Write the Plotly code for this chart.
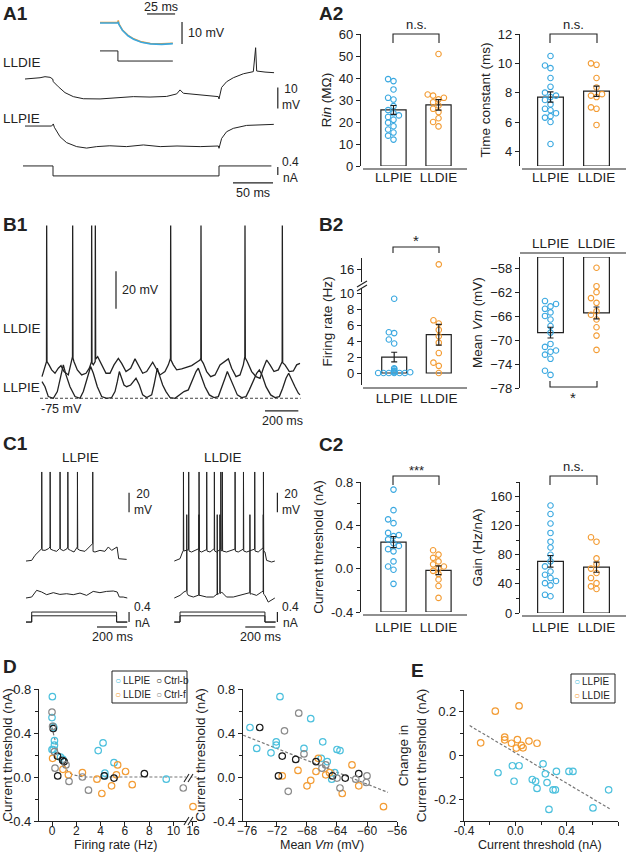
import plotly.graph_objects as go

W, H = 626, 853
FONT = "Liberation Sans, Arial, Helvetica, sans-serif"
INK = "#222222"
CYAN = "#3aa8e0"
CYAN_D = "#4cc0dd"
ORANGE = "#f39c34"
DARK = "#1a1a1a"
GREY = "#8a8a8a"

CATS = ["LLPIE", "LLDIE"]

# ---------------- A1 traces (ms, mV relative to rest) ----------------
A1_LLDIE_T = [0, 10.4, 18.8, 25, 31.3, 34.6, 35.4, 41.7, 50, 60.4, 72.9, 93.8, 114.6, 135.4, 156.3, 177,
              189.6, 193.8, 198, 218.8, 241.7, 242.5, 245.8, 252, 260.4, 273, 285.4, 288.3, 289.6, 300, 311.3]
A1_LLDIE_V = [0, 0.2, 0.6, 1.1, 0.8, 0, -1.3, -3.7, -6.5, -8.4, -9.4, -9.5, -8.9, -8.4, -8.6, -8.3,
              -7.1, -5.2, -6.8, -7.6, -8.4, -9.5, -4.0, -1.3, 0.6, 2.5, 3.5, 14.9, 3.8, 3.3, 3.0]
A1_LLPIE_T = [0, 33.3, 35.4, 36.7, 43.8, 52, 64.6, 77, 89.6, 106, 127, 148, 169, 190, 219, 241.7,
              242.5, 245.8, 252, 260.4, 277, 311]
A1_LLPIE_V = [0, 0, 1.0, -0.6, -5.1, -7.9, -9.8, -10.5, -9.8, -9.4, -9.8, -9.0, -9.8, -9.5, -9.8, -9.5,
              -10.6, -5.9, -2.7, -1.1, 0.3, 0.8]
A1_I_T = [-2.5, 35, 35, 242.5, 242.5, 308]
A1_I_NA = [0, 0, -0.5, -0.5, 0, 0]
# inset
INSET_T = [0, 16, 16.3, 16.8, 20, 25, 30, 37, 45, 55, 65]
INSET_LLDIE_V = [0.2, 0.2, 1.2, -0.3, -3.2, -5.6, -7.2, -8.6, -9.3, -9.5, -9.2]
INSET_LLPIE_V = [0, 0, 0.6, -0.6, -3.3, -5.8, -7.4, -8.8, -9.5, -9.7, -9.4]
INSET_I_T = [0, 16, 16, 65]
INSET_I_NA = [0, 0, -0.5, -0.5]

# ---------------- B1 traces (ms, mV) ----------------
B1_LLDIE = [(0, -63.4), (14, -59.8), (27, -55.4), (28, 17.5), (30, -55.4), (42, -57.1), (58, -59.8), (78, -61.6),
            (98, -58.9), (114, -57.5), (132, -60.7), (158, -62.5), (174, -57.1), (183, -52.7), (184, 17.5),
            (186, -53.5), (192, -55.4), (212, -59.8), (238, -62.5), (264, -61.6), (284, -58.9), (297, -55.4),
            (298, 17.5), (300, -56), (308, -57.1), (319, -55.4), (320, 17.5), (322, -54), (334, -52.7),
            (358, -57.1), (384, -61.6), (408, -61.6), (432, -57.1), (458, -53.6), (478, -56.3), (504, -60.7),
            (532, -58.9), (558, -53.9), (578, -57.1), (604, -61.6), (628, -60.7), (648, -58.0), (664, -55.7),
            (684, -58.9), (708, -62.5), (738, -60.7), (758, -57.1), (771, -53.6), (772, 17.5), (774, -54.5),
            (788, -57.1), (808, -59.8), (838, -59.3), (868, -58.6), (898, -57.5), (928, -55.7), (948, -54.5),
            (953, -53.6), (954, 17.5), (956, -54.5), (968, -56.3), (988, -60.7), (1012, -63.4), (1038, -62.5),
            (1068, -57.1), (1092, -55.4), (1118, -53.9), (1138, -58.9), (1164, -63.4), (1188, -62.5),
            (1208, -57.1), (1217, -52.7), (1218, 17.5), (1220, -53.5), (1232, -55.4), (1258, -60.7),
            (1284, -63.4), (1308, -64.3), (1328, -58.9), (1348, -54.5), (1368, -57.1), (1392, -60.7),
            (1418, -59.8), (1434, -57.1), (1441, -55.4), (1442, 17.5), (1444, -56), (1458, -57.1),
            (1484, -60.7), (1508, -60.4), (1528, -57.1), (1548, -56.3)]
B1_LLPIE = [(0, -66.1), (18, -68.8), (38, -74.1), (68, -75.0), (92, -71.4), (112, -64.3), (128, -57.1),
            (144, -62.5), (168, -68.8), (198, -74.1), (228, -75.0), (248, -71.4), (272, -64.3), (292, -58.0),
            (308, -61.6), (332, -68.8), (358, -74.1), (388, -75.0), (418, -74.6), (438, -71.4), (452, -66.1),
            (464, -60.7), (478, -64.3), (492, -67.9), (508, -68.8), (532, -67.9), (548, -66.1), (564, -64.3),
            (584, -67.9), (604, -73.2), (628, -74.6), (658, -73.2), (672, -67.9), (684, -62.5), (692, -58.9),
            (704, -62.5), (724, -67.9), (744, -71.4), (768, -74.6), (798, -75.0), (828, -73.2), (852, -71.4),
            (878, -70.5), (904, -65.2), (924, -60.7), (938, -58.9), (952, -62.5), (978, -68.8), (1004, -73.2),
            (1032, -74.6), (1058, -74.1), (1078, -69.6), (1098, -64.3), (1112, -60.7), (1128, -64.3),
            (1148, -68.8), (1172, -73.2), (1198, -74.6), (1224, -74.1), (1244, -70.5), (1268, -66.1),
            (1288, -61.6), (1304, -59.8), (1320, -62.5), (1344, -68.8), (1372, -73.2), (1398, -74.6),
            (1424, -74.1), (1444, -69.6), (1464, -64.3), (1480, -61.6), (1496, -64.3), (1518, -68.8),
            (1538, -72.3), (1548, -73.2)]
B1_REST = -75

# ---------------- C1 traces (ms, mV) ----------------
C1_LLPIE_HI = [(0, -69.3), (38, -68.6), (60, -63.4), (89, -58.3), (104, -56.6), (105, 22.5), (107, -58),
               (127, -58.3), (149, -56.6), (160, -54.8), (161, 22.5), (163, -57), (182, -58.3), (204, -59.3),
               (222, -56.6), (226, -56), (227, 22.5), (229, -57), (249, -58.6), (271, -57), (278, -54.8),
               (279, 22.5), (281, -57), (297, -58.3), (320, -60), (342, -54.8), (343, 22.5), (345, -57),
               (360, -58.3), (393, -59.3), (422, -54.8), (444, -51.4), (445, 22.5), (447, -59.5), (460, -60),
               (493, -58.3), (526, -59.3), (549, -54.8), (571, -58.3), (593, -56.6), (607, -54.8), (618, -66.9),
               (644, -67.6), (671, -67.6)]
C1_LLPIE_LO = [(0, -61.0), (38, -60), (71, -53.1), (104, -54.8), (138, -57.6), (182, -55.5), (226, -57.3),
               (271, -56.6), (315, -57.6), (360, -55.9), (404, -58.3), (448, -54.2), (493, -55.5), (537, -54.2),
               (582, -53.8), (608, -54.8), (622, -60), (648, -60), (675, -61.0)]
C1_LLDIE_HI = [(0, -69.3), (38, -66.9), (55, -60), (60, -58.5), (61, 22.5), (63, -59), (78, -58.3), (95, -57.5),
               (96, 22.5), (98, -59), (115, -60), (149, -57.3), (164, -56.5), (165, 22.5), (167, -59), (182, -60),
               (204, -58.3), (215, -57.5), (216, 22.5), (218, -59), (238, -60), (260, -57.3), (266, -56.5),
               (267, 22.5), (269, -59), (282, -60), (304, -57.6), (309, -57), (310, 22.5), (312, -59), (319, -58),
               (320, 22.5), (322, -59), (348, -60), (382, -58.3), (404, -57), (405, 22.5), (407, -59), (426, -60),
               (448, -58.3), (460, -57), (461, 22.5), (463, -59), (482, -60), (515, -58.3), (535, -57),
               (536, 22.5), (538, -59), (559, -60), (582, -56.6), (593, -55.5), (594, 22.5), (596, -59),
               (604, -60), (615, -68.6), (648, -70.3), (670, -69.3)]
C1_LLDIE_LO = [(0, -61), (38, -58.3), (64, -54.8), (82, -53.5), (83, 24.9), (85, -56), (93, -58.3), (127, -60),
               (163, -58), (164, 24.9), (166, -58.5), (171, -58.3), (215, -60), (260, -60), (285, -57),
               (286, 24.9), (288, -57.5), (295, -56.6), (303, -55.5), (304, 24.9), (306, -56.5), (315, -54.8),
               (348, -60), (393, -60), (437, -58.3), (482, -56.6), (503, -55.5), (504, 24.9), (506, -57),
               (515, -56.6), (548, -58.3), (582, -54.8), (592, -54), (593, 24.9), (595, -57), (604, -58.3),
               (626, -65.2), (670, -61)]
C1_I_T = [0, 38, 38, 604, 604, 675]
C1_I_HI = [0, 0, 0.4, 0.4, 0, 0]
C1_I_LO = [0, 0, 0.25, 0.25, 0, 0]

# ---------------- A2 / B2 / C2 group data ----------------
RIN_LLPIE = [39.5, 38.6, 34.8, 31.0, 30.2, 27.2, 25.4, 24.0, 23.0, 22.3, 21.0, 19.7, 18.1, 16.6, 15.2, 13.8, 12.0]
RIN_LLDIE = [50.9, 32.5, 32.0, 31.0, 30.3, 29.0, 27.5, 26.0, 24.5, 21.7, 20.0, 18.0]
RIN_MEAN, RIN_SEM = [25.5, 27.8], [2.0, 2.4]
TAU_LLPIE = [10.5, 9.85, 9.67, 9.0, 8.4, 8.0, 7.8, 7.7, 7.5, 7.2, 6.9, 6.8, 6.6, 6.4, 6.3, 6.0, 4.5]
TAU_LLDIE = [10.0, 9.9, 9.0, 8.35, 7.9, 7.8, 7.7, 7.0, 6.9, 5.8]
TAU_MEAN, TAU_SEM = [7.7, 8.1], [0.35, 0.35]
FR_LLPIE = [9.3, 5.1, 5.0, 4.2, 3.7, 0.6, 0.5, 0.3, 0.2, 0.1, 0.1, 0, 0, 0, 0, 0, 0]
FR_LLDIE = [17.1, 6.6, 6.2, 5.4, 4.6, 3.8, 2.5, 1.3, 0.9, 0]
FR_MEAN, FR_SEM = [2.0, 4.8], [0.6, 1.3]
VM_LLPIE = [-63.4, -63.9, -64.3, -64.7, -65.3, -65.9, -66.5, -67.6, -68.7, -70.6, -71.1, -71.7, -71.9, -72.4,
            -73.1, -75.1, -75.8]
VM_LLDIE = [-57.8, -60.9, -61.9, -62.9, -63.7, -65.1, -65.7, -66.5, -67.8, -69.2, -71.6]
VM_MEAN, VM_SEM = [-68.7, -65.4], [0.9, 1.0]
THR_LLPIE = [0.73, 0.54, 0.455, 0.42, 0.33, 0.31, 0.30, 0.27, 0.235, 0.21, 0.18, 0.16, 0.067, 0.02, -0.01, -0.14]
THR_LLDIE = [0.17, 0.13, 0.10, 0.067, 0.04, 0.02, 0.0, -0.02, -0.05, -0.10, -0.16, -0.27]
THR_MEAN, THR_SEM = [0.245, -0.015], [0.05, 0.04]
GAIN_LLPIE = [147.7, 136, 123, 110, 98, 90, 80, 71, 64, 57, 52.6, 48, 44, 41, 38, 25, 23]
GAIN_LLDIE = [104, 98, 75, 67, 61, 55, 48, 41, 36.6, 33]
GAIN_MEAN, GAIN_SEM = [71, 63], [8, 7]

# ---------------- D: threshold vs firing rate / mean Vm ----------------
D1_LLPIE_FR = [0.03, 0.0, 0.1, 0.15, 0.2, 0.2, 0.1, 0.0, 0.7, 0.9, 3.8, 4.2, 4.35, 4.35, 5.1, 9.4]
D1_LLPIE_THR = [0.73, 0.54, 0.46, 0.45, 0.33, 0.29, 0.25, 0.25, 0.18, 0.16, 0.24, 0.31, 0.035, 0.01, 0.13, -0.02]
D1_LLDIE_FR = [0.05, 0.9, 1.35, 2.5, 3.7, 4.1, 4.9, 5.4, 5.3, 6.05, 6.6, 16]
D1_LLDIE_THR = [0.17, 0.07, 0.02, 0.04, -0.02, -0.15, -0.08, 0.11, 0.02, 0.05, -0.07, -0.27]
D1_CTRLB_FR = [0.1, 0.45, 0.88, 1.0, 0.47, 4.3, 5.1, 7.6]
D1_CTRLB_THR = [0.44, 0.19, 0.15, 0.14, 0.01, 0.01, -0.01, 0.03]
D1_CTRLF_FR = [0.0, 0.05, 0.2, 0.25, 1.15, 1.4, 3.0, 2.5, 10.8]
D1_CTRLF_THR = [0.59, 0.46, 0.23, 0.08, 0.11, -0.04, -0.12, 0.0, -0.1]
D1_FIT_FR = [0, 0.1, 0.25, 0.5, 0.75, 1.0, 1.3, 1.7, 2.2, 2.6, 17]
D1_FIT_THR = [0.45, 0.4, 0.32, 0.22, 0.15, 0.1, 0.05, 0.02, 0.005, 0, 0]

D2_LLPIE_VM = [-75.6, -74.7, -72.8, -72.1, -72.1, -71.6, -68.4, -67.5, -65.9, -66.1, -65.3, -64.7, -64.3, -64.0, -63.6]
D2_LLPIE_THR = [0.45, 0.26, 0.22, 0.32, 0.29, 0.73, 0.26, 0.53, 0.32, 0.17, 0.14, -0.02, 0.04, 0.25, 0.24]
D2_LLDIE_VM = [-71.3, -69.2, -68.0, -67.5, -66.8, -66.5, -65.5, -65.0, -63.3, -62.0, -61.1, -57.8]
D2_LLDIE_THR = [0.01, 0.06, -0.08, -0.03, 0.05, 0.17, 0.02, 0.04, -0.15, 0.11, -0.08, -0.27]
D2_CTRLB_VM = [-74.3, -71.3, -71.8, -69.5, -66.8, -64.6, -62.9, -61.1]
D2_CTRLB_THR = [0.45, 0.19, 0.01, 0.16, 0.14, 0.01, -0.01, 0.03]
D2_CTRLF_VM = [-71.0, -69.1, -68.4, -70.5, -66.0, -65.5, -63.6, -61.5, -60.0, -60.1, -64.0]
D2_CTRLF_THR = [0.42, 0.58, 0.21, -0.13, 0.08, 0.11, -0.10, -0.02, 0.01, -0.05, -0.01]
D2_FIT_VM = [-76.5, -57.2]
D2_FIT_THR = [0.38, -0.14]

# ---------------- E: change in threshold vs threshold ----------------
E_LLDIE_THR = [-0.156, 0.029, -0.27, -0.083, -0.083, -0.03, 0.016, 0.008, 0.047, 0.06, 0.106, 0.169]
E_LLDIE_CHG = [0.203, 0.227, 0.058, 0.084, 0.072, 0.056, 0.073, 0.034, 0.046, 0.035, 0.066, 0.056]
E_LLPIE_THR = [-0.135, -0.023, 0.029, -0.01, 0.132, 0.158, 0.169, 0.216, 0.234, 0.247, 0.262, 0.294, 0.312,
               0.32, 0.418, 0.449, 0.605, 0.727]
E_LLPIE_CHG = [-0.079, -0.047, -0.047, -0.118, -0.11, -0.118, -0.151, -0.038, -0.084, -0.124, -0.247, -0.157,
               -0.157, -0.073, -0.073, -0.073, -0.24, -0.157]
E_FIT_THR = [-0.356, 0.735]
E_FIT_CHG = [0.137, -0.244]

fig = go.Figure()
AX, ANN, SHP = {}, [], []


def fx(px):
    return px / W


def fy(py):
    return 1 - py / H


def ids(n):
    return ("x", "y") if n == 1 else (f"x{n}", f"y{n}")


def set_axes(n, px0, px1, py0, py1, xr, yr, xa=None, ya=None):
    xk, yk = ("xaxis", "yaxis") if n == 1 else (f"xaxis{n}", f"yaxis{n}")
    xi, yi = ids(n)
    AX[xk] = dict(domain=[fx(px0), fx(px1)], range=xr, anchor=yi, fixedrange=True, showgrid=False,
                  zeroline=False, automargin=False, **(xa or {"visible": False}))
    AX[yk] = dict(domain=[fy(py1), fy(py0)], range=yr, anchor=xi, fixedrange=True, showgrid=False,
                  zeroline=False, automargin=False, **(ya or {"visible": False}))


def line(n, xs, ys, color=INK, width=1.0, dash=None):
    xi, yi = ids(n)
    fig.add_trace(go.Scatter(x=xs, y=ys, mode="lines", line=dict(color=color, width=width, dash=dash),
                             xaxis=xi, yaxis=yi, hoverinfo="skip", showlegend=False))


def pts(n, xs, ys, color, size=6.5, lw=1.2):
    xi, yi = ids(n)
    fig.add_trace(go.Scatter(x=xs, y=ys, mode="markers",
                             marker=dict(symbol="circle-open", size=size, color=color, line=dict(width=lw)),
                             xaxis=xi, yaxis=yi, showlegend=False))


def text(px, py, s, size=13, anchor="left", bold=False):
    ANN.append(dict(x=fx(px), y=fy(py), xref="paper", yref="paper", text=f"<b>{s}</b>" if bold else s,
                    showarrow=False, xanchor=anchor, yanchor="middle", font=dict(size=size, color=INK)))


def path(p, width=1.1, color=INK):
    d = "M " + " L ".join(f"{fx(a):.5f},{fy(b):.5f}" for a, b in p)
    SHP.append(dict(type="path", path=d, xref="paper", yref="paper", line=dict(color=color, width=width),
                    layer="above"))


def blank(px0, py0, px1, py1):
    SHP.append(dict(type="rect", x0=fx(px0), x1=fx(px1), y0=fy(py1), y1=fy(py0), xref="paper", yref="paper",
                    fillcolor="white", line_width=0, layer="above"))


def split(pairs):
    return [a for a, _ in pairs], [b for _, b in pairs]


def swarm(vals, d, step=0.12):
    # spread overlapping dots sideways so they stay readable
    order = sorted(range(len(vals)), key=lambda i: vals[i])
    offs, done = [0.0] * len(vals), []
    for i in order:
        for c in (0, -step, step, -2 * step, 2 * step, -3 * step, 3 * step):
            if all(abs(vals[i] - vals[j]) >= d or abs(c - offs[j]) >= step * 0.9 for j in done):
                offs[i] = c
                break
        done.append(i)
    return offs


def yax(title, tickvals, ticktext=None, minor=None, standoff=4):
    d = dict(visible=True, showline=True, linecolor=INK, linewidth=1.2, ticks="outside", ticklen=4,
             tickwidth=1.2, tickcolor=INK, tickvals=tickvals, tickfont=dict(size=13),
             title=dict(text=title, font=dict(size=13.5), standoff=standoff))
    if ticktext:
        d["ticktext"] = ticktext
    if minor:
        d["minor"] = dict(tickmode="array", tickvals=minor, ticks="outside", ticklen=2.5, tickwidth=1.2,
                          tickcolor=INK)
    return d


def catx(side="bottom", standoff=1):
    return dict(visible=True, showline=False, ticks="", tickvals=[0, 1], ticktext=CATS, side=side,
                tickfont=dict(size=13.5), ticklabelstandoff=standoff)


def bar_panel(n, a, b, means, sems, base, d, tf=lambda v: v):
    xi, yi = ids(n)
    fig.add_trace(go.Bar(x=[0, 1], y=[m - base for m in means], base=base, width=0.56,
                         marker=dict(color="white", line=dict(color=INK, width=1.2)),
                         xaxis=xi, yaxis=yi, showlegend=False, hoverinfo="skip"))
    for vals, col, k in ((a, CYAN, 0), (b, ORANGE, 1)):
        dv = [tf(v) for v in vals]
        offs = swarm(dv, d)
        pts(n, [k + o for o in offs], dv, col, size=5.5, lw=1.1)
    fig.add_trace(go.Scatter(x=[0, 1], y=means, mode="markers", marker=dict(size=1, color="rgba(0,0,0,0)"),
                             error_y=dict(type="data", array=sems, color=INK, thickness=1.2, width=3),
                             xaxis=xi, yaxis=yi, showlegend=False, hoverinfo="skip"))


# ===== A1 =====
set_axes(1, 20, 290, 40, 200, [-6.25, 331.25], [-57.62, 18.57])
LLPIE_SHIFT, I_BASE_A1, I_GAIN_A1 = -22.4, -41.4, 9.5
line(1, A1_LLDIE_T, A1_LLDIE_V)
line(1, A1_LLPIE_T, [v + LLPIE_SHIFT for v in A1_LLPIE_V])
line(1, A1_I_T, [I_BASE_A1 + i * I_GAIN_A1 for i in A1_I_NA])
line(1, [316, 316], [-4, -14], width=1.2)
line(1, [316, 316], [I_BASE_A1 - 0.05 * I_GAIN_A1, I_BASE_A1 - 0.45 * I_GAIN_A1], width=1.2)
line(1, [260, 310], [-49.5, -49.5], width=1.2)
set_axes(2, 95, 220, 5, 65, [-4.46, 107.1], [-19.1, 8.18])
line(2, INSET_T, INSET_LLDIE_V, color=ORANGE, width=1.6)
line(2, INSET_T, INSET_LLPIE_V, color=CYAN, width=1.6)
line(2, INSET_I_T, [-12.7 + i * 9.2 for i in INSET_I_NA])
line(2, [42, 67], [4.1, 4.1], width=1.2)
line(2, [73.2, 73.2], [0.5, -9.5], width=1.2)
text(1, 13, "A1", 19, bold=True)
text(161, 7, "25 ms", 12.5, "center")
text(186, 33, "10 mV", 12.5)
text(1, 62, "LLDIE", 13.5)
text(280, 97, "10<br>mV", 12)
text(1, 118, "LLPIE", 13.5)
text(280, 170, "0.4<br>nA", 12)
text(253, 193, "50 ms", 12.5, "center")

# ===== B1 =====
set_axes(5, 40, 302, 220, 430, [-12, 1560], [-92.0, 20.5])
line(5, [-12, 1552], [B1_REST, B1_REST], color="#444444", width=1, dash="3px,2px")
t, v = split(B1_LLDIE)
line(5, t, v, width=1.3)
t, v = split(B1_LLPIE)
line(5, t, v, width=1.3)
line(5, [444, 444], [-27, -7], width=1.2)
line(5, [1338, 1538], [-81.8, -81.8], width=1.2)
text(1, 225, "B1", 19, bold=True)
text(120, 290, "20 mV", 12.5)
text(1, 328, "LLDIE", 13.5)
text(1, 388, "LLPIE", 13.5)
text(39, 409, "-75 mV", 12.5)
text(282, 421, "200 ms", 12.5, "center")

# ===== C1 =====
LO_SHIFT, I_BASE_C1, I_GAIN_C1 = -46.4, -132.2, 25.8
for n, hi, lo, x0 in ((8, C1_LLPIE_HI, C1_LLPIE_LO, 20), (9, C1_LLDIE_HI, C1_LLDIE_LO, 168)):
    xr = [-40, 760] if n == 8 else [-42, 771]
    set_axes(n, x0, x0 + (120 if n == 8 else 122), 465, 640, xr, [-150.7, 29.7])
    t, v = split(hi)
    line(n, t, v)
    t, v = split(lo)
    line(n, t, [y + LO_SHIFT for y in v])
    line(n, C1_I_T, [I_BASE_C1 + i * I_GAIN_C1 for i in C1_I_HI])
    line(n, C1_I_T, [I_BASE_C1 + i * I_GAIN_C1 for i in C1_I_LO])
    line(n, [687, 687], [-19, 1], width=1.2)
    line(n, [687, 687], [I_BASE_C1, I_BASE_C1 + 0.4 * I_GAIN_C1], width=1.2)
    line(n, [473, 673], [-137.3, -137.3], width=1.2)
text(1, 443, "C1", 19, bold=True)
text(80, 458, "LLPIE", 13.5, "center")
text(223, 458, "LLDIE", 13.5, "center")
for xp in (132, 280):
    text(xp, 502, "20<br>mV", 12)
    text(xp, 615, "0.4<br>nA", 12)
text(112, 637, "200 ms", 12.5, "center")
text(260, 637, "200 ms", 12.5, "center")

# ===== A2 =====
set_axes(3, 361, 467, 34, 166, [-0.722, 1.633], [0, 60], catx(),
         yax("R<i>in</i> (MΩ)", [0, 10, 20, 30, 40, 50, 60]))
bar_panel(3, RIN_LLPIE, RIN_LLDIE, RIN_MEAN, RIN_SEM, 0, 2.5)
set_axes(4, 520, 626, 34, 166, [-0.663, 1.641], [3, 12], catx(),
         yax("Time constant (ms)", [4, 6, 8, 10, 12]))
bar_panel(4, TAU_LLPIE, TAU_LLDIE, TAU_MEAN, TAU_SEM, 3, 0.38)
text(317, 13, "A2", 19, bold=True)
path([(363, 169), (467, 169)], 1.2)
path([(522, 169), (626, 169)], 1.2)
path([(393, 43), (393, 34), (439, 34), (439, 43)])
path([(550, 43), (550, 34), (597, 34), (597, 43)])
text(416, 25, "n.s.", 13, "center")
text(573, 25, "n.s.", 13, "center")

# ===== B2 =====
def fr_disp(v):
    return v if v <= 10 else 13 + (v - 16) * 0.55


set_axes(6, 362, 467, 258, 385, [-0.722, 1.633], [-1.5, 14.4], catx(standoff=3),
         yax("Firing rate (Hz)", [0, 2, 4, 6, 8, 10, 13], ["0", "2", "4", "6", "8", "10", "16"]))
bar_panel(6, FR_LLPIE, FR_LLDIE, FR_MEAN, FR_SEM, 0, 0.7, fr_disp)
set_axes(7, 520, 626, 257, 388, [-0.663, 1.641], [-78, -56], catx("top", 5),
         yax("Mean <i>Vm</i> (mV)", [-58, -62, -66, -70, -74, -78]))
bar_panel(7, VM_LLPIE, VM_LLDIE, VM_MEAN, VM_SEM, -56, 0.9)
text(317, 225, "B2", 19, bold=True)
path([(363, 388), (467, 388)], 1.2)
path([(520, 253), (626, 253)], 1.2)
blank(358, 282, 366, 288)
path([(357, 287), (367, 281)], 1.1)
path([(357, 291), (367, 285)], 1.1)
path([(393, 253), (393, 247), (439, 247), (439, 253)])
path([(550, 381), (550, 387), (597, 387), (597, 381)])
text(416, 240, "*", 15, "center")
text(573, 397, "*", 15, "center")

# ===== C2 =====
set_axes(10, 361, 467, 482, 612, [-0.722, 1.633], [-0.4, 0.8], catx(standoff=5),
         yax("Current threshold (nA)", [-0.4, 0, 0.4, 0.8], ["-0.4", "0.0", "0.4", "0.8"], [-0.2, 0.2, 0.6]))
bar_panel(10, THR_LLPIE, THR_LLDIE, THR_MEAN, THR_SEM, -0.4, 0.05)
set_axes(11, 520, 626, 482, 613, [-0.663, 1.641], [0, 180], catx(standoff=4),
         yax("Gain (Hz/nA)", [0, 40, 80, 120, 160], None, [20, 60, 100, 140, 180]))
bar_panel(11, GAIN_LLPIE, GAIN_LLDIE, GAIN_MEAN, GAIN_SEM, 0, 7.6)
text(317, 444, "C2", 19, bold=True)
path([(363, 615), (467, 615)], 1.2)
path([(522, 616), (626, 616)], 1.2)
path([(393, 485), (393, 476), (439, 476), (439, 485)])
path([(550, 485), (550, 476), (597, 476), (597, 485)])
text(416, 470, "***", 13, "center")
text(573, 467, "n.s.", 13, "center")


# ===== D =====
def fr_x(v):
    return v if v < 16 else 11.6 + (v - 16) * 0.3


sc_x = dict(visible=True, showline=True, linecolor=INK, linewidth=1.2, ticks="outside", ticklen=4,
            tickwidth=1.2, tickcolor=INK, tickfont=dict(size=12), ticklabelstandoff=-6)
set_axes(12, 39, 197, 689, 821, [-1.07, 11.93], [-0.4, 0.8],
         dict(sc_x, tickvals=[0, 2, 4, 6, 8, 10, 11.6], ticktext=["0", "2", "4", "6", "8", "10", "16"]),
         yax("Current threshold (nA)", [-0.4, 0, 0.4, 0.8], ["-0.4", "0.0", "0.4", "0.8"], [-0.2, 0.2, 0.6]))
line(12, [fr_x(v) for v in D1_FIT_FR], D1_FIT_THR, color="#777777", width=1.2, dash="3px,2px")
pts(12, [fr_x(v) for v in D1_LLPIE_FR], D1_LLPIE_THR, CYAN_D)
pts(12, [fr_x(v) for v in D1_LLDIE_FR], D1_LLDIE_THR, ORANGE)
pts(12, [fr_x(v) for v in D1_CTRLB_FR], D1_CTRLB_THR, DARK)
pts(12, [fr_x(v) for v in D1_CTRLF_FR], D1_CTRLF_THR, GREY)
for yb in (821, 778):
    blank(186, yb - 3, 191, yb + 3)
    path([(184, yb + 4), (189, yb - 4)], 1.1)
    path([(188, yb + 4), (193, yb - 4)], 1.1)
text(115, 845, "Firing rate (Hz)", 12.5, "center")

set_axes(13, 243, 397, 689, 821, [-76.53, -56], [-0.4, 0.8],
         dict(sc_x, tickvals=[-76, -72, -68, -64, -60, -56]),
         yax("Current threshold (nA)", [-0.4, 0, 0.4, 0.8], ["-0.4", "0.0", "0.4", "0.8"], [-0.2, 0.2, 0.6]))
line(13, D2_FIT_VM, D2_FIT_THR, color="#777777", width=1.2, dash="3px,2px")
pts(13, D2_LLPIE_VM, D2_LLPIE_THR, CYAN_D)
pts(13, D2_LLDIE_VM, D2_LLDIE_THR, ORANGE)
pts(13, D2_CTRLB_VM, D2_CTRLB_THR, DARK)
pts(13, D2_CTRLF_VM, D2_CTRLF_THR, GREY)
text(322, 845, "Mean <i>Vm</i> (mV)", 12.5, "center")
text(1, 666, "D", 19, bold=True)
path([(112, 671), (187, 671), (187, 703), (112, 703), (112, 671)], 1.0)
text(113, 680, f'<span style="color:{CYAN_D}">○</span>\u2009LLPIE', 10)
text(154, 680, f'<span style="color:{DARK}">○</span>\u2009Ctrl-b', 10)
text(113, 694, f'<span style="color:{ORANGE}">○</span>\u2009LLDIE', 10)
text(154, 694, f'<span style="color:{GREY}">○</span>\u2009Ctrl-f', 10)

# ===== E =====
set_axes(14, 464, 618, 690, 821, [-0.4, 0.8], [-0.3, 0.3],
         dict(sc_x, tickvals=[-0.4, 0, 0.4, 0.8], ticktext=["-0.4", "0.0", "0.4", "0.8"],
              minor=dict(tickmode="array", tickvals=[-0.2, 0.2, 0.6], ticks="outside", ticklen=2.5,
                         tickwidth=1.2, tickcolor=INK)),
         yax("Change in<br>Current threshold (nA)", [-0.2, 0, 0.2], ["-0.2", "0", "0.2"], [-0.3, -0.1, 0.1, 0.3]))
line(14, E_FIT_THR, E_FIT_CHG, color="#777777", width=1.2, dash="3px,2px")
pts(14, E_LLPIE_THR, E_LLPIE_CHG, CYAN_D)
pts(14, E_LLDIE_THR, E_LLDIE_CHG, ORANGE)
text(540, 845, "Current threshold (nA)", 12.5, "center")
text(409, 670, "E", 19, bold=True)
path([(571, 674), (615, 674), (615, 703), (571, 703), (571, 674)], 1.0)
text(572, 681.5, f'<span style="color:{CYAN_D}">○</span>\u2009LLPIE', 10)
text(572, 695.5, f'<span style="color:{ORANGE}">○</span>\u2009LLDIE', 10)

fig.update_layout(width=W, height=H, margin=dict(l=0, r=0, t=0, b=0), paper_bgcolor="white",
                  plot_bgcolor="rgba(0,0,0,0)", font=dict(family=FONT, size=13, color=INK),
                  showlegend=False, barmode="overlay", annotations=ANN, shapes=SHP, **AX)
# the page body has a default 8px margin; drop it so the figure fills the window exactly
fig.write_html("out.html", config={"displayModeBar": False},
               post_script="document.body.style.margin='0';")
